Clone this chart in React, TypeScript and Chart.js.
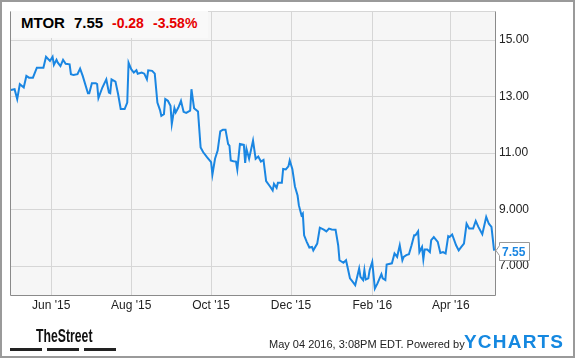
import React, { useEffect, useRef } from "react";
import { Chart, registerables } from "chart.js";

Chart.register(...registerables);

// Days since 2015-05-01
const dayOffsets = [
  0, 3, 5, 7, 10, 12, 14, 17, 20, 25, 27, 30, 32, 33, 35, 36, 38, 40, 42, 45,
  46, 48, 51, 53, 55, 59, 60, 62, 65, 66, 67, 70, 73, 75, 76, 77, 80, 82, 84, 87,
  89, 90, 92, 94, 96, 97, 100, 102, 104, 105, 108, 110, 112, 114, 115, 117, 118, 120, 122, 123,
  125, 126, 128, 130, 132, 134, 137, 138, 140, 143, 145, 147, 150, 153, 154, 156, 158, 160, 162, 164,
  166, 167, 168, 170, 172, 173, 175, 178, 179, 180, 182, 185, 187, 189, 191, 193, 195, 198, 200, 201,
  203, 204, 207, 208, 210, 212, 213, 215, 217, 219, 220, 222, 223, 224, 226, 228, 230, 231, 234, 236,
  239, 241, 243, 245, 248, 250, 251, 254, 256, 257, 259, 261, 263, 266, 267, 269, 270, 271, 273, 274,
  276, 278, 280, 283, 284, 286, 287, 291, 293, 295, 297, 299, 300, 302, 304, 306, 308, 309, 311, 312,
  314, 315, 316, 318, 320, 321, 323, 326, 328, 330, 332, 334, 335, 337, 340, 342, 344, 346, 348, 350,
  353, 355, 357, 360, 363, 365, 367, 369,
];

const prices = [
  13.23, 13.26, 12.91, 13.44, 13.32, 13.73, 13.67, 13.67, 14.02, 14.02, 14.41, 14.26, 14.41, 14.12, 14.3, 14.2, 14.08, 14.3, 14.16, 14.14,
  13.79, 13.76, 13.79, 13.99, 13.73, 13.12, 13.12, 13.47, 13.47, 13.44, 12.95, 13.32, 13.61, 13.14, 13.12, 13.61, 13.53, 13.09, 12.56, 12.56,
  12.79, 14.2, 13.97, 13.85, 13.93, 13.81, 13.85, 13.81, 13.61, 13.93, 13.91, 13.81, 12.79, 12.52, 12.32, 12.38, 12.91, 12.85, 12.67, 12.03,
  12.59, 12.44, 12.61, 12.85, 12.46, 12.42, 12.5, 13.26, 12.59, 12.47, 11.2, 11.03, 10.85, 10.68, 10.24, 10.8, 11.09, 11.77, 11.83, 11.83,
  11.32, 11.26, 10.74, 10.71, 10.7, 10.42, 11.32, 11.29, 10.65, 11.15, 10.8, 11.44, 10.8, 10.88, 10.7, 10.76, 10.01, 9.82, 9.68, 9.91,
  9.77, 9.95, 9.95, 10.44, 10.42, 10.53, 10.74, 10.44, 9.82, 9.5, 9.15, 8.8, 8.86, 8.09, 7.86, 7.66, 7.68, 7.56, 7.8, 8.36,
  8.29, 8.23, 8.33, 8.3, 8.29, 7.74, 7.21, 7.12, 7.21, 7.0, 6.57, 6.45, 6.33, 6.92, 6.62, 6.51, 6.86, 6.53, 6.57, 6.86,
  7.15, 6.21, 6.39, 6.72, 6.57, 6.51, 7.06, 7.1, 7.45, 7.33, 7.74, 7.21, 7.33, 7.39, 7.42, 7.74, 8.09, 8.09, 8.23, 7.5,
  7.68, 7.24, 7.59, 7.59, 7.5, 7.92, 8.03, 7.86, 7.47, 7.5, 7.45, 8.06, 8.03, 8.12, 7.74, 7.56, 7.68, 7.8, 8.5, 8.33,
  8.33, 8.6, 8.39, 8.13, 8.74, 8.5, 8.39, 7.55,
];

const xTickDays = [31, 92, 153, 214, 276, 336];
const xTickLabels = ["Jun '15", "Aug '15", "Oct '15", "Dec '15", "Feb '16", "Apr '16"];
const yTickValues = [7, 9, 11, 13, 15];
const yTickLabels = ["7.000", "9.000", "11.00", "13.00", "15.00"];

const LINE_COLOR = "#1a86e2";
const FONT = '"Liberation Sans", Arial, sans-serif';

const bgPlugin = {
  id: "plotBg",
  beforeDraw(chart: any) {
    const { ctx, chartArea } = chart;
    ctx.save();
    ctx.fillStyle = "#ffffff";
    ctx.fillRect(0, 0, chart.width, chart.height);
    ctx.fillStyle = "#f6f6f6";
    ctx.fillRect(chartArea.left, chartArea.top, chartArea.right - chartArea.left, chartArea.bottom - chartArea.top);
    ctx.restore();
  },
  afterDraw(chart: any) {
    const { ctx, chartArea } = chart;
    const l = Math.round(chartArea.left) + 0.5;
    const r = Math.round(chartArea.right) + 0.5;
    const t = Math.round(chartArea.top) + 0.5;
    const b = Math.round(chartArea.bottom) + 0.5;
    ctx.save();
    ctx.lineWidth = 1;
    ctx.strokeStyle = "#d6d6d6";
    ctx.beginPath();
    ctx.moveTo(l, t);
    ctx.lineTo(r, t);
    ctx.stroke();
    ctx.strokeStyle = "#8a8a8a";
    ctx.beginPath();
    ctx.moveTo(l, t);
    ctx.lineTo(l, b);
    ctx.lineTo(r, b);
    ctx.lineTo(r, t);
    ctx.stroke();

    // price tag
    const y = chart.scales.y.getPixelForValue(prices[prices.length - 1]);
    const tip = chartArea.right + 1;
    const bx = Math.round(chartArea.right) + 4.5;
    const bw = 30;
    const bh = 18;
    const top = Math.round(y - bh / 2) + 0.5;
    ctx.beginPath();
    ctx.moveTo(tip, y);
    ctx.lineTo(bx, y - 5);
    ctx.lineTo(bx, top);
    ctx.lineTo(bx + bw, top);
    ctx.lineTo(bx + bw, top + bh);
    ctx.lineTo(bx, top + bh);
    ctx.lineTo(bx, y + 5);
    ctx.closePath();
    ctx.fillStyle = "#ffffff";
    ctx.fill();
    ctx.strokeStyle = "#999999";
    ctx.stroke();
    ctx.fillStyle = LINE_COLOR;
    ctx.font = "bold 12px " + FONT;
    ctx.textAlign = "left";
    ctx.textBaseline = "middle";
    ctx.fillText(prices[prices.length - 1].toFixed(2), bx + 2.5, top + bh / 2 + 1);
    ctx.restore();
  },
};

export default function App() {
  const ref = useRef<HTMLCanvasElement | null>(null);

  useEffect(() => {
    document.body.style.margin = "0";
    if (!ref.current) return;
    const chart = new Chart(ref.current, {
      type: "line",
      data: {
        datasets: [
          {
            data: dayOffsets.map((d, i) => ({ x: d, y: prices[i] })),
            borderColor: LINE_COLOR,
            borderWidth: 2,
            pointRadius: 0,
            tension: 0,
            fill: false,
          },
        ],
      },
      options: {
        animation: false,
        responsive: false,
        maintainAspectRatio: false,
        layout: { padding: { left: 10, top: 10, right: 0, bottom: 0 } },
        plugins: { legend: { display: false }, tooltip: { enabled: false } },
        scales: {
          x: {
            type: "linear",
            min: -0.5,
            max: 369.7,
            afterBuildTicks: (axis: any) => {
              axis.ticks = xTickDays.map((v) => ({ value: v }));
            },
            afterFit: (axis: any) => {
              axis.height = 63;
            },
            grid: { color: "#d6d6d6", lineWidth: 1, drawTicks: false },
            border: { display: false },
            ticks: {
              autoSkip: false,
              maxRotation: 0,
              padding: 3,
              color: "#222222",
              font: { family: FONT, size: 12 },
              callback: (v: any) => {
                const i = xTickDays.indexOf(Number(v));
                return i >= 0 ? xTickLabels[i] : "";
              },
            },
          },
          y: {
            position: "right",
            min: 5.98,
            max: 16.02,
            afterBuildTicks: (axis: any) => {
              axis.ticks = yTickValues.map((v) => ({ value: v }));
            },
            afterFit: (axis: any) => {
              axis.width = 80;
            },
            grid: { color: "#d6d6d6", lineWidth: 1, drawTicks: false },
            border: { display: false },
            ticks: {
              padding: 4,
              color: "#222222",
              font: { family: FONT, size: 12 },
              callback: (v: any) => {
                const i = yTickValues.indexOf(Number(v));
                return i >= 0 ? yTickLabels[i] : "";
              },
            },
          },
        },
      },
      plugins: [bgPlugin],
    } as any);
    return () => chart.destroy();
  }, []);

  const abs = (s: React.CSSProperties): React.CSSProperties => ({ position: "absolute", whiteSpace: "nowrap", ...s });

  return (
    <div style={{ position: "relative", width: 575, height: 358, fontFamily: FONT, overflow: "hidden" }}>
      <canvas ref={ref} width={575} height={358} style={{ display: "block" }} />
      <div style={abs({ left: 11, top: 11, width: 197, height: 27, background: "#f9f9f9" })} />
      <span style={abs({ left: 21, top: 15, fontSize: 15, lineHeight: "15px", fontWeight: "bold", color: "#000" })}>MTOR</span>
      <span style={abs({ left: 74, top: 15, fontSize: 15, lineHeight: "15px", fontWeight: "bold", color: "#000" })}>7.55</span>
      <span style={abs({ left: 112, top: 16, fontSize: 14, lineHeight: "14px", fontWeight: "bold", color: "#e60000" })}>-0.28</span>
      <span style={abs({ left: 153, top: 16, fontSize: 14, lineHeight: "14px", fontWeight: "bold", color: "#e60000" })}>-3.58%</span>

      <span
        style={abs({
          left: 36,
          top: 327,
          fontSize: 18,
          lineHeight: "18px",
          fontWeight: "bold",
          color: "#111",
          transform: "scaleX(0.68)",
          transformOrigin: "left top",
        })}
      >
        TheStreet
      </span>
      <div style={abs({ left: 10, top: 348, width: 32, height: 3, background: "#222" })} />
      <div style={abs({ left: 47, top: 348, width: 32, height: 3, background: "#222" })} />
      <div style={abs({ left: 84, top: 348, width: 32, height: 3, background: "#222" })} />

      <span style={abs({ left: 269, top: 339, fontSize: 11, lineHeight: "11px", color: "#222" })}>
        May 04 2016, 3:08PM EDT. Powered by
      </span>
      <span
        style={abs({
          left: 464,
          top: 332,
          fontSize: 19,
          lineHeight: "19px",
          fontWeight: "bold",
          letterSpacing: "1.2px",
          color: "#1588e0",
        })}
      >
        YCHARTS
      </span>
      <div
        style={abs({
          left: 0,
          top: 0,
          width: 575,
          height: 358,
          border: "2px solid #9a9a9a",
          boxSizing: "border-box",
          pointerEvents: "none",
        })}
      />
    </div>
  );
}
